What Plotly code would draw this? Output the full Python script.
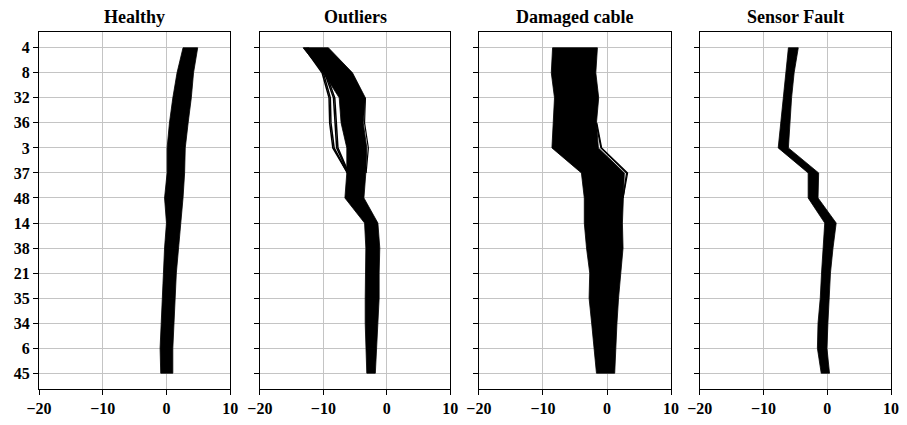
import plotly.graph_objects as go

categories = ["4", "8", "32", "36", "3", "37", "48", "14", "38", "21", "35", "34", "6", "45"]
titles = ["Healthy", "Outliers", "Damaged cable", "Sensor Fault"]
x_ticks = [-20, -10, 0, 10]

# Band edges (min / max over all curves) per sensor, for each condition
healthy_left = [2.6, 1.66, 1.0, 0.47, 0.1, 0.1, -0.3, 0.0, -0.3, -0.5, -0.7, -0.8, -1.0, -0.9]
healthy_right = [4.9, 4.25, 3.9, 3.4, 2.95, 2.85, 2.6, 2.3, 1.9, 1.55, 1.3, 1.15, 1.0, 1.0]

outliers_left = [-13.2, -10.0, -7.5, -7.2, -6.3, -6.3, -6.6, -3.5, -3.3, -3.4, -3.4, -3.4, -3.3, -3.15]
outliers_right = [-9.2, -5.4, -3.37, -3.7, -3.15, -3.3, -3.6, -1.4, -1.1, -1.2, -1.2, -1.35, -1.6, -1.8]

damaged_left = [-8.5, -8.7, -8.2, -8.45, -8.6, -4.0, -3.55, -3.55, -3.2, -2.7, -2.8, -2.4, -2.0, -1.65]
damaged_right = [-1.5, -1.75, -1.3, -1.65, -1.35, 2.7, 2.5, 2.4, 2.5, 2.2, 1.8, 1.55, 1.35, 1.2]

sensor_left = [-6.1, -6.5, -6.9, -7.3, -7.7, -3.0, -3.0, -0.4, -0.7, -0.9, -1.1, -1.45, -1.55, -0.95]
sensor_right = [-4.55, -5.2, -5.6, -5.85, -6.1, -1.35, -1.45, 1.4, 0.9, 0.5, 0.35, 0.1, -0.05, 0.35]

# Individual outlying curves (Outliers panel), sensors 4..37
outlier_cats = ["4", "8", "32", "36", "3", "37"]
outlier_curve_a = [-13.0, -10.2, -9.1, -9.0, -8.5, -6.2]
outlier_curve_b = [-12.8, -10.0, -8.9, -8.8, -8.3, -6.2]
outlier_curve_c = [-12.6, -9.8, -8.4, -8.2, -7.9, -6.1]
outlier_curve_d = [-12.4, -9.6, -8.2, -7.9, -7.7, -6.0]

# Curve on the right edge of the Outliers band, sensors 32..37
outlier_edge_cats = ["32", "36", "3", "37"]
outlier_edge_curve = [-3.37, -3.5, -2.9, -3.25]

# Individual curves diverging in Damaged cable panel, sensors 36..48
damaged_cats = ["36", "3", "37", "48"]
damaged_curve_a = [-1.6, -0.85, 3.2, 2.5]
damaged_curve_b = [-1.7, -0.95, 3.05, 2.5]

bands = [
    (healthy_left, healthy_right),
    (outliers_left, outliers_right),
    (damaged_left, damaged_right),
    (sensor_left, sensor_right),
]

domains = [[0.0, 0.2244], [0.2593, 0.4826], [0.5163, 0.7419], [0.7756, 1.0]]
font_family = "Liberation Serif, Times New Roman, serif"

fig = go.Figure()

for i, (left, right) in enumerate(bands):
    n = i + 1
    xa = "x" if n == 1 else f"x{n}"
    ya = "y" if n == 1 else f"y{n}"
    fig.add_trace(go.Scatter(
        x=left + right[::-1] + [left[0]],
        y=categories + categories[::-1] + [categories[0]],
        mode="lines", fill="toself", fillcolor="black",
        line=dict(color="black", width=0.8),
        xaxis=xa, yaxis=ya, showlegend=False, hoverinfo="skip",
    ))

for curve in (outlier_curve_a, outlier_curve_b, outlier_curve_c, outlier_curve_d):
    fig.add_trace(go.Scatter(
        x=curve, y=outlier_cats, mode="lines",
        line=dict(color="black", width=1.5),
        xaxis="x2", yaxis="y2", showlegend=False, hoverinfo="skip",
    ))

fig.add_trace(go.Scatter(
    x=outlier_edge_curve, y=outlier_edge_cats, mode="lines",
    line=dict(color="black", width=1.2),
    xaxis="x2", yaxis="y2", showlegend=False, hoverinfo="skip",
))

for curve in (damaged_curve_a, damaged_curve_b):
    fig.add_trace(go.Scatter(
        x=curve, y=damaged_cats, mode="lines",
        line=dict(color="black", width=1.3),
        xaxis="x3", yaxis="y3", showlegend=False, hoverinfo="skip",
    ))

layout = dict(
    width=907, height=425,
    margin=dict(l=39, r=8, t=32, b=31),
    paper_bgcolor="white", plot_bgcolor="white",
    font=dict(family=font_family, size=16, color="black"),
    showlegend=False,
    annotations=[],
)

for i in range(4):
    n = i + 1
    xkey = "xaxis" if n == 1 else f"xaxis{n}"
    ykey = "yaxis" if n == 1 else f"yaxis{n}"
    xa = "x" if n == 1 else f"x{n}"
    ya = "y" if n == 1 else f"y{n}"
    layout[xkey] = dict(
        domain=domains[i], anchor=ya, range=[-20, 10],
        tickmode="array", tickvals=x_ticks,
        ticktext=[str(v).replace("-", "\u2212") for v in x_ticks],
        showgrid=True, gridcolor="#c4c4c4", gridwidth=1,
        zeroline=False, showline=True, linecolor="black", linewidth=1.3,
        mirror=True, ticks="outside", ticklen=5, tickcolor="black", tickwidth=1,
        tickfont=dict(family=font_family, size=16, color="black", weight="bold"),
    )
    layout[ykey] = dict(
        domain=[0, 1], anchor=xa, type="category",
        categoryorder="array", categoryarray=categories,
        range=[13.63, -0.63],
        showgrid=True, gridcolor="#c4c4c4", gridwidth=1,
        zeroline=False, showline=True, linecolor="black", linewidth=1.3,
        mirror=True, ticks="outside", ticklen=5, tickcolor="black", tickwidth=1,
        showticklabels=(n == 1),
        tickfont=dict(family=font_family, size=16, color="black", weight="bold"),
    )
    layout["annotations"].append(dict(
        text=f"<b>{titles[i]}</b>", xref="paper", yref="paper",
        x=(domains[i][0] + domains[i][1]) / 2, y=1.0,
        xanchor="center", yanchor="bottom", yshift=3, showarrow=False,
        font=dict(family=font_family, size=18, color="black"),
    ))

fig.update_layout(**layout)
fig.write_html("out.html")
